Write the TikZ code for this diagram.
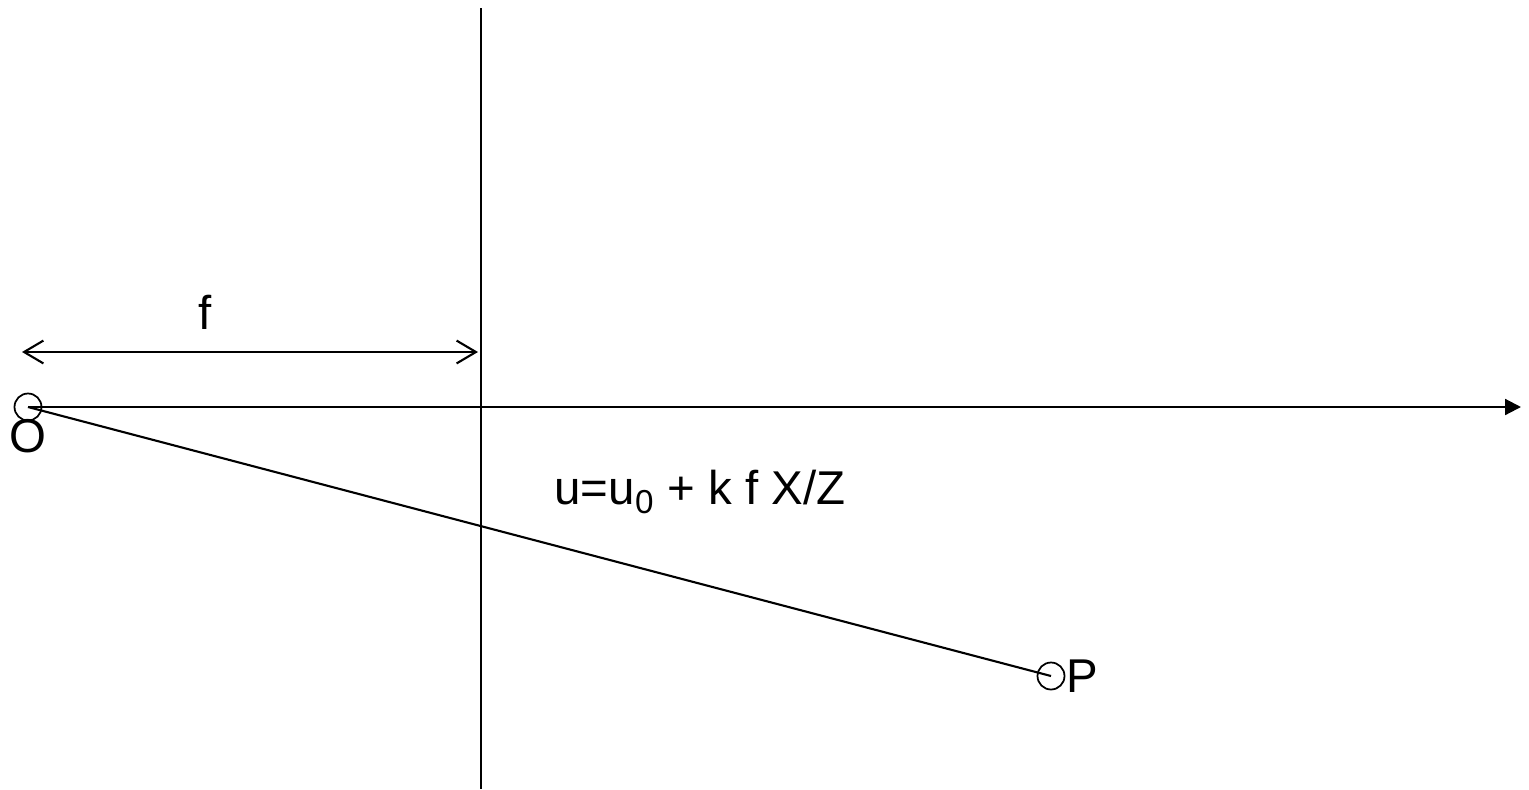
\documentclass[tikz,border=0pt]{standalone}
\usepackage{fontspec}
\setmainfont{Liberation Sans}
\usetikzlibrary{arrows.meta}

\begin{document}
\begin{tikzpicture}[
  x=0.02cm,y=-0.02cm,
  line width=1.2pt,
  pt/.style={draw,circle,minimum size=0.54cm,inner sep=0pt,line width=1pt},
  lbl/.style={font=\fontsize{27}{32}\selectfont,inner sep=0pt},
  axis/.style={-{Triangle[length=9pt,width=9pt]}},
  dim/.style={{Straight Barb[length=11pt,width=13pt]}-{Straight Barb[length=11pt,width=13pt]}}
]
  \useasboundingbox (0,0) rectangle (1529,789);
  \node[pt] (O) at (28,407) {};
  \node[pt] (P) at (1051,676) {};
  \node[lbl] (Olbl) at (28,436) {O};
  \node[lbl,anchor=west] (Plbl) at (P.east) {P};
  \coordinate (top) at (481,8);
  \coordinate (bot) at (481,789);
  \coordinate (axend) at (1521,407);
  \coordinate (fL) at (22,352);
  \coordinate (fR) at (478,352);

  \draw (top) -- (bot);
  \draw[axis] (O.center) -- (axend);
  \draw (O.center) -- (P.center);
  \draw[dim] (fL) -- (fR);
  \node[lbl] (flbl) at (205,312) {f};
  \node[lbl] (eq) at (700,492) {u=u\textsubscript{0} + k f X/Z};
\end{tikzpicture}
\end{document}
